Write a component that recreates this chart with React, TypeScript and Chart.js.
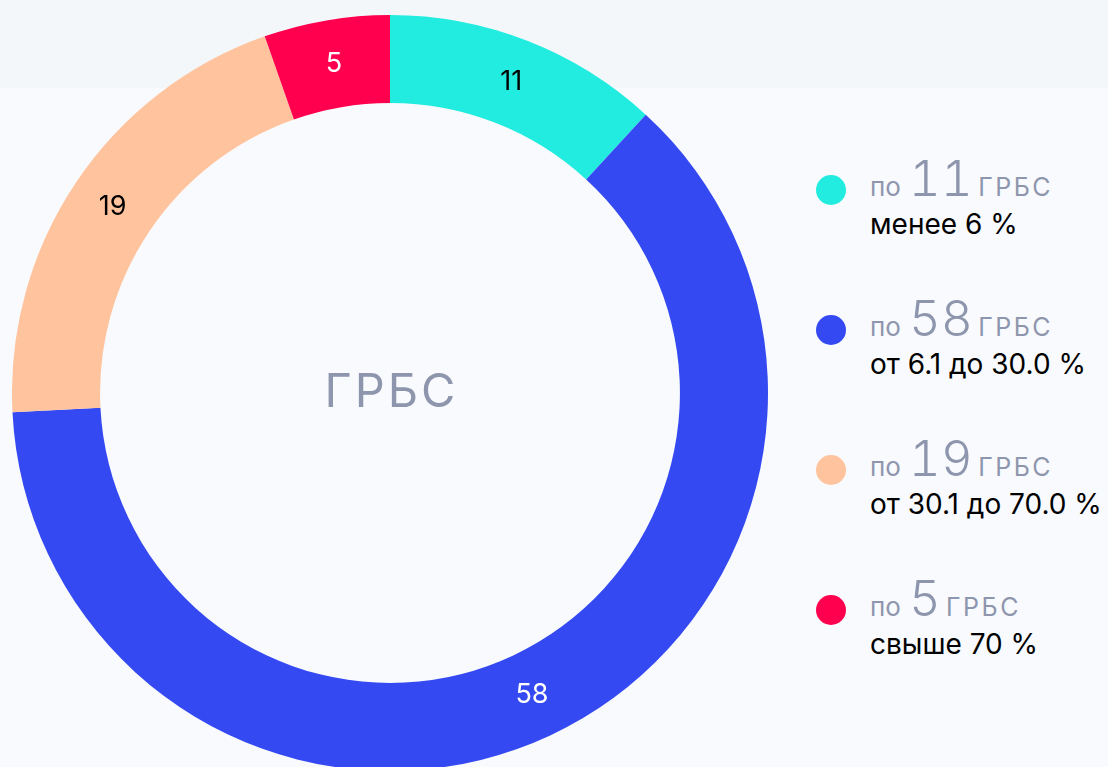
import React, { useEffect, useRef } from "react";
import { Chart, registerables } from "chart.js";

Chart.register(...registerables);

const categories = ["менее 6 %", "от 6.1 до 30.0 %", "от 30.1 до 70.0 %", "свыше 70 %"];
const counts = [11, 58, 19, 5];
const colors = ["#22ECE0", "#3449F2", "#FFC39D", "#FF004F"];
const labelColors = ["#000000", "#FFFFFF", "#000000", "#FFFFFF"];
const centerTitle = "ГРБС";
const unitLabel = "ГРБС";
const prefixLabel = "по";

const FONT = "Inter, 'Noto Sans', sans-serif";

const labelPlugin = {
  id: "arcLabels",
  afterDatasetsDraw(chart: any) {
    const ctx = chart.ctx;
    const meta = chart.getDatasetMeta(0);
    ctx.save();
    ctx.font = `400 27px ${FONT}`;
    ctx.textAlign = "center";
    ctx.textBaseline = "middle";
    meta.data.forEach((arc: any, i: number) => {
      const p = arc.tooltipPosition();
      ctx.fillStyle = labelColors[i];
      ctx.fillText(String(counts[i]), p.x, p.y);
    });
    const c = meta.data[0];
    ctx.fillStyle = "#8E96AE";
    ctx.font = `400 47px ${FONT}`;
    (ctx as any).letterSpacing = "3px";
    ctx.fillText(centerTitle, c.x + 1.5, c.y);
    ctx.restore();
  },
};

export default function App() {
  const ref = useRef<HTMLCanvasElement | null>(null);
  useEffect(() => {
    document.body.style.margin = "0";
    if (!ref.current) return;
    const chart = new Chart(ref.current, {
      type: "doughnut",
      data: {
        labels: categories,
        datasets: [
          {
            data: counts,
            backgroundColor: colors,
            borderWidth: 0,
            offset: 0,
            hoverOffset: 0,
            spacing: 0,
          } as any,
        ],
      },
      options: {
        animation: false,
        responsive: true,
        maintainAspectRatio: false,
        cutout: "76.7%",
        layout: { padding: 0 },
        plugins: { legend: { display: false }, tooltip: { enabled: false } },
        events: [],
      },
      plugins: [labelPlugin],
    });
    return () => chart.destroy();
  }, []);

  return (
    <div
      style={{
        position: "fixed",
        left: 0,
        top: 0,
        width: 1108,
        height: 767,
        overflow: "hidden",
        background: "#F8FAFD",
        fontFamily: FONT,
      }}
    >
      <div style={{ position: "absolute", left: 0, top: 0, width: 1108, height: 88, background: "#F3F7F9" }} />
      <div style={{ position: "absolute", left: 12, top: 15, width: 756, height: 756 }}>
        <canvas ref={ref} />
      </div>
      {counts.map((n, i) => {
        const cy = 190 + i * 140;
        return (
          <React.Fragment key={i}>
            <div
              style={{
                position: "absolute",
                left: 816,
                top: cy - 15,
                width: 30,
                height: 30,
                borderRadius: 15,
                background: colors[i],
              }}
            />
            <div style={{ position: "absolute", left: 870, top: cy - 36, whiteSpace: "nowrap" }}>
              <div style={{ display: "flex", alignItems: "baseline", height: 52, lineHeight: "50px", color: "#8E96AE" }}>
                <span style={{ fontSize: 26 }}>{prefixLabel}</span>
                <span
                  style={{
                    fontSize: 49,
                    fontWeight: 300,
                    margin: "0 5px 0 8px",
                    fontVariantNumeric: "tabular-nums",
                    letterSpacing: 0.5,
                  }}
                >
                  {n}
                </span>
                <span style={{ fontSize: 25, letterSpacing: 2.5 }}>{unitLabel}</span>
              </div>
              <div style={{ fontSize: 28, lineHeight: "36px", color: "#000" }}>{categories[i]}</div>
            </div>
          </React.Fragment>
        );
      })}
    </div>
  );
}
